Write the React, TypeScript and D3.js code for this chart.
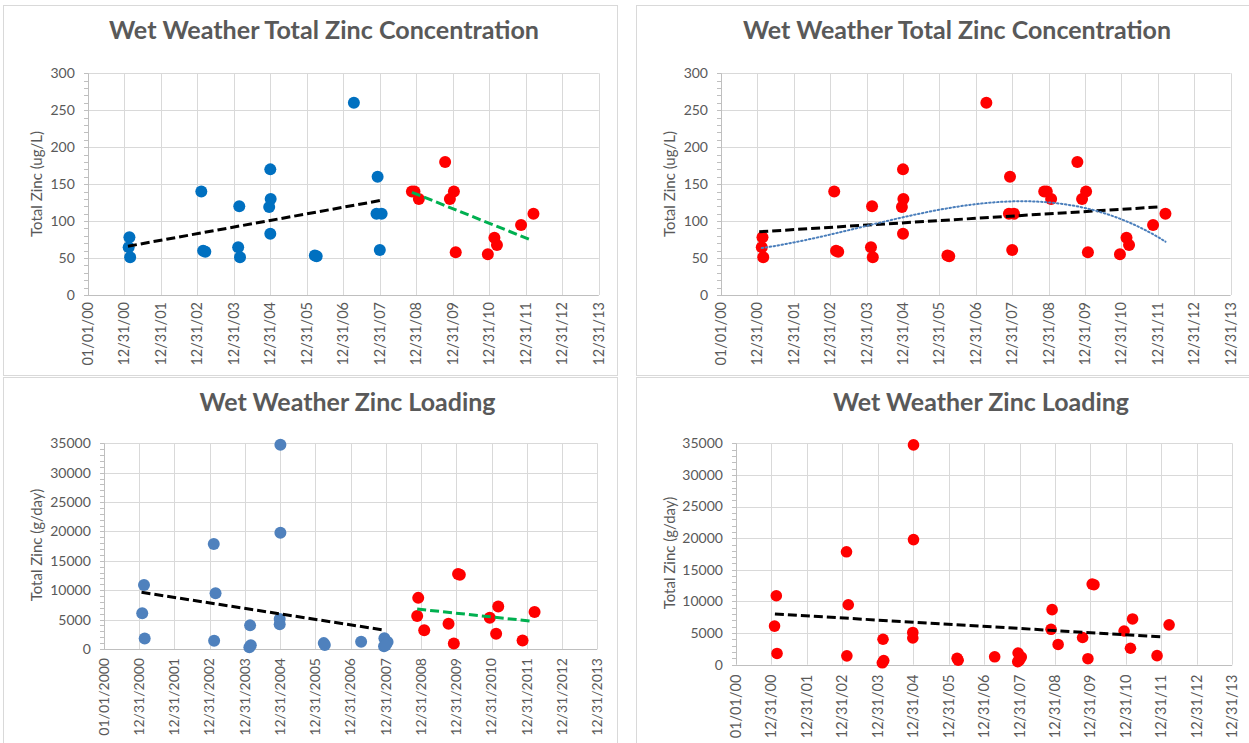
import React from "react";
import * as d3 from "d3";

// ---------- DATA (x = years elapsed since 01/01/2000) ----------
const shortDateLabels = ["01/01/00", "12/31/00", "12/31/01", "12/31/02", "12/31/03", "12/31/04", "12/31/05", "12/31/06", "12/31/07", "12/31/08", "12/31/09", "12/31/10", "12/31/11", "12/31/12", "12/31/13"];
const longDateLabels = ["01/01/2000", "12/31/2000", "12/31/2001", "12/31/2002", "12/31/2003", "12/31/2004", "12/31/2005", "12/31/2006", "12/31/2007", "12/31/2008", "12/31/2009", "12/31/2010", "12/31/2011", "12/31/2012", "12/31/2013"];

const concTicks = [0, 50, 100, 150, 200, 250, 300];
const loadTicks = [0, 5000, 10000, 15000, 20000, 25000, 30000, 35000];

// Total zinc concentration (ug/L)
const concBeforeYears = [1.14, 1.12, 1.16, 3.11, 3.16, 3.22, 4.15, 4.12, 4.17, 5.0, 5.01, 4.97, 5.0, 6.22, 6.27, 7.29, 7.94, 7.91, 8.05, 8.0];
const concBeforeValues = [78, 64.5, 51, 140, 60, 58.5, 120, 64.5, 51, 170, 130, 119, 83, 53.5, 52.5, 260, 160, 110, 110, 61];
const concAfterYears = [8.88, 8.95, 9.07, 9.79, 10.03, 9.92, 10.08, 10.96, 11.14, 11.21, 11.87, 12.21];
const concAfterValues = [140, 140, 130, 180, 140, 130, 57.7, 55, 77.5, 67.6, 94.6, 110];

// Total zinc loading (g/day)
const loadBeforeYears = [1.14, 1.09, 1.16, 3.12, 3.17, 3.13, 4.15, 4.13, 4.17, 5.01, 5.01, 4.99, 4.99, 6.24, 6.27, 7.3, 7.96, 8.05, 7.95, 8.0];
const loadBeforeValues = [10900, 6100, 1780, 17850, 9480, 1400, 4020, 300, 650, 34750, 19780, 5100, 4220, 1000, 700, 1250, 1850, 1200, 480, 700];
const loadAfterYears = [8.92, 8.89, 9.09, 9.78, 9.93, 10.05, 10.1, 10.95, 11.19, 11.13, 11.88, 12.22];
const loadAfterValues = [8700, 5600, 3200, 4300, 950, 12750, 12650, 5330, 7230, 2600, 1430, 6300];

// Linear trendline end points
const concTrendBeforeYears = [1.1, 8.03];
const concTrendBeforeValues = [66, 128];
const concTrendAfterYears = [8.88, 12.1];
const concTrendAfterValues = [139, 75.3];
const concTrendAllYears = [1.05, 12.09];
const concTrendAllValues = [85.6, 119.3];
const loadTrendBeforeYears = [1.07, 7.95];
const loadTrendBeforeValues = [9640, 3230];
const loadTrendAfterYears = [8.89, 12.09];
const loadTrendAfterValues = [6800, 4760];
const loadTrendAllYears = [1.1, 12.06];
const loadTrendAllValues = [8015, 4380];

// ---------- helpers ----------
function polyFit(xs: number[], ys: number[], degree: number): number[] {
  const n = degree + 1;
  const A: number[][] = Array.from({ length: n }, () => new Array(n + 1).fill(0));
  for (let i = 0; i < xs.length; i++) {
    for (let r = 0; r < n; r++) {
      for (let c = 0; c < n; c++) A[r][c] += Math.pow(xs[i], r + c);
      A[r][n] += ys[i] * Math.pow(xs[i], r);
    }
  }
  for (let col = 0; col < n; col++) {
    let piv = col;
    for (let r = col + 1; r < n; r++) if (Math.abs(A[r][col]) > Math.abs(A[piv][col])) piv = r;
    [A[col], A[piv]] = [A[piv], A[col]];
    for (let r = 0; r < n; r++) {
      if (r === col) continue;
      const f = A[r][col] / A[col][col];
      for (let c = col; c <= n; c++) A[r][c] -= f * A[col][c];
    }
  }
  return A.map((row, i) => row[n] / row[i]);
}

const FONT = "Lato, 'Open Sans', sans-serif";
const TEXT = "#595959";
const GRID = "#d9d9d9";

type Series = { xs: number[]; ys: number[]; color: string };
type Trend = { xs: number[]; ys: number[]; color: string; dash: string; width: number; curve?: boolean };

type PanelProps = {
  box: [number, number, number, number];
  plot: { l: number; r: number; t: number; b: number };
  title: string;
  titleX: number;
  titleY: number;
  titleWidth: number;
  yLabel: string;
  yLabelX: number;
  yLabelY: number;
  yTicks: number[];
  yMinor: number;
  xLabels: string[];
  xGap: number;
  xFont: number;
  series: Series[];
  trends: Trend[];
  radius: number;
};

function Panel(p: PanelProps) {
  const x = d3.scaleLinear().domain([0, p.xLabels.length - 1]).range([p.plot.l, p.plot.r]);
  const yMax = p.yTicks[p.yTicks.length - 1];
  const y = d3.scaleLinear().domain([0, yMax]).range([p.plot.b, p.plot.t]);
  const minorTicks = d3.range(0, yMax + p.yMinor / 2, p.yMinor);
  const line = d3.line<[number, number]>().x((d) => x(d[0])).y((d) => y(d[1]));

  return (
    <g>
      <rect x={p.box[0] + 0.5} y={p.box[1] + 0.5} width={p.box[2]} height={p.box[3]} fill="#fff" stroke={GRID} strokeWidth={1} />
      <text
        x={p.titleX}
        y={p.titleY}
        textAnchor="middle"
        fontFamily={FONT}
        fontWeight={700}
        fontSize={24}
        fill={TEXT}
        textLength={p.titleWidth}
        lengthAdjust="spacingAndGlyphs"
      >
        {p.title}
      </text>
      {/* horizontal gridlines */}
      {p.yTicks.map((t) => (
        <line key={"h" + t} x1={p.plot.l} x2={p.plot.r} y1={Math.round(y(t)) + 0.5} y2={Math.round(y(t)) + 0.5} stroke={t === 0 ? "#bfbfbf" : GRID} strokeWidth={1} />
      ))}
      {/* vertical gridlines */}
      {p.xLabels.map((_, i) =>
        i === 0 ? null : (
          <line key={"v" + i} x1={Math.round(x(i)) + 0.5} x2={Math.round(x(i)) + 0.5} y1={p.plot.t} y2={p.plot.b} stroke={GRID} strokeWidth={1} />
        )
      )}
      {/* y axis line and minor ticks */}
      <line x1={Math.round(p.plot.l) + 0.5} x2={Math.round(p.plot.l) + 0.5} y1={p.plot.t} y2={p.plot.b} stroke="#bfbfbf" strokeWidth={1} />
      {minorTicks.map((t) => (
        <line key={"m" + t} x1={Math.round(p.plot.l) - 4} x2={Math.round(p.plot.l)} y1={Math.round(y(t)) + 0.5} y2={Math.round(y(t)) + 0.5} stroke="#bfbfbf" strokeWidth={1} />
      ))}
      {/* y tick labels */}
      {p.yTicks.map((t) => (
        <text key={"yl" + t} x={p.plot.l - 13} y={y(t)} dy="0.35em" textAnchor="end" fontFamily={FONT} fontSize={14} fill={TEXT}>
          {t}
        </text>
      ))}
      {/* x tick labels */}
      {p.xLabels.map((lab, i) => (
        <text
          key={"xl" + i}
          transform={`translate(${x(i)},${p.plot.b + p.xGap}) rotate(-90)`}
          dy="0.35em"
          textAnchor="end"
          fontFamily={FONT}
          fontSize={p.xFont}
          fill={TEXT}
        >
          {lab}
        </text>
      ))}
      {/* y axis title */}
      <text transform={`translate(${p.yLabelX},${p.yLabelY}) rotate(-90)`} textAnchor="middle" dy="0.35em" fontFamily={FONT} fontSize={15} fill={TEXT}>
        {p.yLabel}
      </text>
      {/* points */}
      {p.series.map((s, si) =>
        s.xs.map((v, i) => <circle key={si + "-" + i} cx={x(v)} cy={y(s.ys[i])} r={p.radius} fill={s.color} />)
      )}
      {/* trendlines */}
      {p.trends.map((t, ti) => {
        const pts: [number, number][] = t.xs.map((v, i) => [v, t.ys[i]]);
        return (
          <path
            key={"t" + ti}
            d={line(pts) || ""}
            fill="none"
            stroke={t.color}
            strokeWidth={t.width}
            strokeDasharray={t.dash}
            strokeLinecap={t.curve ? "round" : "butt"}
          />
        );
      })}
    </g>
  );
}

export default function App() {
  const BLUE1 = "#0070c0";
  const BLUE2 = "#4f81bd";
  const RED = "#ff0000";
  const GREEN = "#00b050";

  const allConcYears = [...concBeforeYears, ...concAfterYears];
  const allConcValues = [...concBeforeValues, ...concAfterValues];
  const allLoadYears = [...loadBeforeYears, ...loadAfterYears];
  const allLoadValues = [...loadBeforeValues, ...loadAfterValues];

  // third-order polynomial trendline fitted to all concentration data
  const coef = polyFit(allConcYears, allConcValues, 3);
  const minX = d3.min(allConcYears) as number;
  const maxX = d3.max(allConcYears) as number;
  const polyXs = d3.range(0, 101).map((i) => minX + ((maxX - minX) * i) / 100);
  const polyYs = polyXs.map((xv) => coef.reduce((s, c, k) => s + c * Math.pow(xv, k), 0));

  const dashed = "9,4";

  return (
    <svg width={1249} height={743} style={{ position: "absolute", left: 0, top: 0, background: "#fff" }}>
      <Panel
        box={[3, 5, 614, 370]}
        plot={{ l: 87.8, r: 598.8, t: 73.3, b: 295 }}
        title="Wet Weather Total Zinc Concentration"
        titleX={324}
        titleY={39}
        titleWidth={430}
        yLabel="Total Zinc (ug/L)"
        yLabelX={37}
        yLabelY={184}
        yTicks={concTicks}
        yMinor={10}
        xLabels={shortDateLabels}
        xGap={7}
        xFont={14.5}
        radius={6}
        series={[
          { xs: concBeforeYears, ys: concBeforeValues, color: BLUE1 },
          { xs: concAfterYears, ys: concAfterValues, color: RED },
        ]}
        trends={[
          { xs: concTrendBeforeYears, ys: concTrendBeforeValues, color: "#000", dash: dashed, width: 3 },
          { xs: concTrendAfterYears, ys: concTrendAfterValues, color: GREEN, dash: dashed, width: 3 },
        ]}
      />
      <Panel
        box={[636, 5, 620, 370]}
        plot={{ l: 721, r: 1230.6, t: 73.3, b: 295 }}
        title="Wet Weather Total Zinc Concentration"
        titleX={957}
        titleY={39}
        titleWidth={428}
        yLabel="Total Zinc (ug/L)"
        yLabelX={670}
        yLabelY={184}
        yTicks={concTicks}
        yMinor={10}
        xLabels={shortDateLabels}
        xGap={7}
        xFont={14.5}
        radius={6}
        series={[{ xs: allConcYears, ys: allConcValues, color: RED }]}
        trends={[
          { xs: concTrendAllYears, ys: concTrendAllValues, color: "#000", dash: dashed, width: 3 },
          { xs: polyXs, ys: polyYs, color: "#4a7ebb", dash: "1.5,2.5", width: 2, curve: true },
        ]}
      />
      <Panel
        box={[3, 377, 614, 380]}
        plot={{ l: 103.8, r: 597.3, t: 443.3, b: 649 }}
        title="Wet Weather Zinc Loading"
        titleX={347.5}
        titleY={411}
        titleWidth={296}
        yLabel="Total Zinc (g/day)"
        yLabelX={37}
        yLabelY={545}
        yTicks={loadTicks}
        yMinor={1000}
        xLabels={longDateLabels}
        xGap={9}
        xFont={14}
        radius={6}
        series={[
          { xs: loadBeforeYears, ys: loadBeforeValues, color: BLUE2 },
          { xs: loadAfterYears, ys: loadAfterValues, color: RED },
        ]}
        trends={[
          { xs: loadTrendBeforeYears, ys: loadTrendBeforeValues, color: "#000", dash: dashed, width: 3 },
          { xs: loadTrendAfterYears, ys: loadTrendAfterValues, color: GREEN, dash: dashed, width: 3 },
        ]}
      />
      <Panel
        box={[636, 377, 620, 380]}
        plot={{ l: 735.9, r: 1232.2, t: 443.3, b: 664.7 }}
        title="Wet Weather Zinc Loading"
        titleX={981}
        titleY={411}
        titleWidth={296}
        yLabel="Total Zinc (g/day)"
        yLabelX={670}
        yLabelY={553}
        yTicks={loadTicks}
        yMinor={1000}
        xLabels={shortDateLabels}
        xGap={10}
        xFont={14.5}
        radius={5.8}
        series={[{ xs: allLoadYears, ys: allLoadValues, color: RED }]}
        trends={[{ xs: loadTrendAllYears, ys: loadTrendAllValues, color: "#000", dash: dashed, width: 3 }]}
      />
    </svg>
  );
}
